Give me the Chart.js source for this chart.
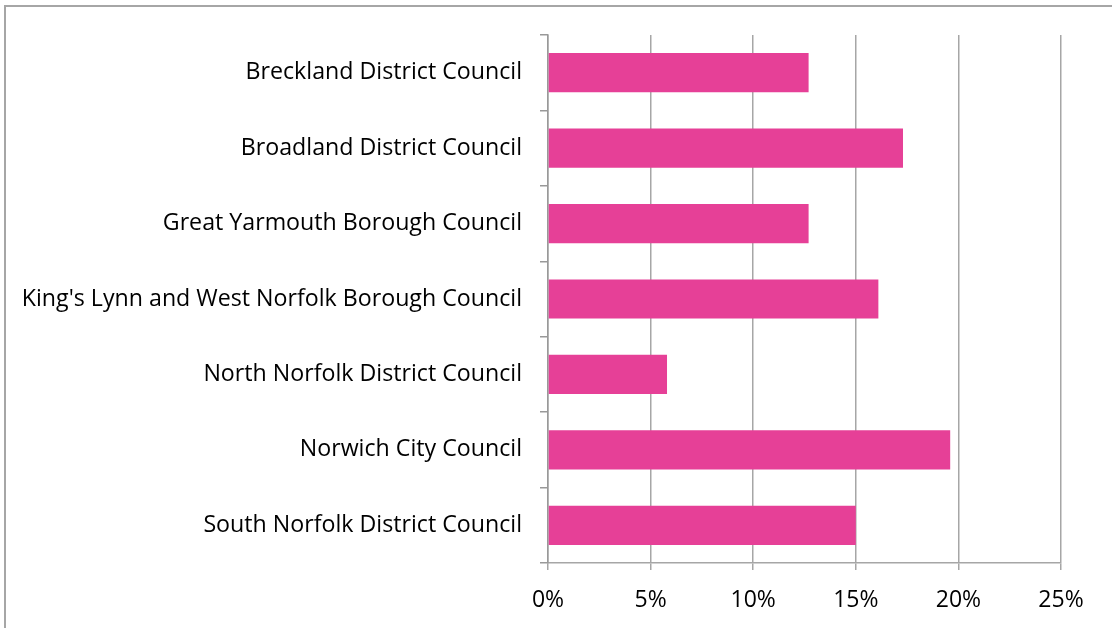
<!DOCTYPE html>
<html>
<head>
<meta charset="utf-8">
<script src="https://cdn.jsdelivr.net/npm/chart.js@4"></script>
<style>
  html, body { margin: 0; padding: 0; background: #fff; overflow: hidden; }
  #frame { position: absolute; left: 4px; top: 5px; width: 1200px; height: 700px; border: 2px solid #a6a6a6; }
  #wrap { position: absolute; left: 0; top: 0; width: 1112px; height: 628px; }
</style>
</head>
<body>
<div id="frame"></div>
<div id="wrap"><canvas id="chart" width="1112" height="628"></canvas></div>
<script>
const councils = [
    'Breckland District Council',
    'Broadland District Council',
    'Great Yarmouth Borough Council',
    "King's Lynn and West Norfolk Borough Council",
    'North Norfolk District Council',
    'Norwich City Council',
    'South Norfolk District Council'
];
const shares = [12.7, 17.3, 12.7, 16.1, 5.8, 19.6, 15.0];
const xMin = 0;
const xMax = 25;
const xStep = 5;

const ctx = document.getElementById('chart').getContext('2d');
new Chart(ctx, {
    type: 'bar',
    data: {
        labels: councils,
        datasets: [{
            data: shares,
            backgroundColor: '#e64097',
            borderWidth: 0,
            barPercentage: 0.52,
            categoryPercentage: 1
        }]
    },
    options: {
        indexAxis: 'y',
        responsive: false,
        animation: false,
        layout: { padding: { left: 0, right: 51, top: 35, bottom: 0 } },
        plugins: { legend: { display: false }, tooltip: { enabled: false } },
        scales: {
            x: {
                min: xMin,
                max: xMax,
                ticks: {
                    stepSize: xStep,
                    color: '#000',
                    font: { family: 'Open Sans', size: 23 },
                    padding: 17,
                    callback: v => v + '%'
                },
                grid: { color: '#a6a6a6', lineWidth: 1.5, tickLength: 7 },
                border: { color: '#a6a6a6', width: 1.5 },
                afterFit: s => { s.height = 65; }
            },
            y: {
                ticks: {
                    color: '#000',
                    font: { family: 'Open Sans', size: 23.2 },
                    padding: 18
                },
                grid: { display: true, drawOnChartArea: false, offset: true, color: '#999', lineWidth: 1.5, tickLength: 8 },
                border: { color: '#999', width: 1.5 },
                afterFit: s => { s.width = 548; }
            }
        }
    }
});
</script>
</body>
</html>
